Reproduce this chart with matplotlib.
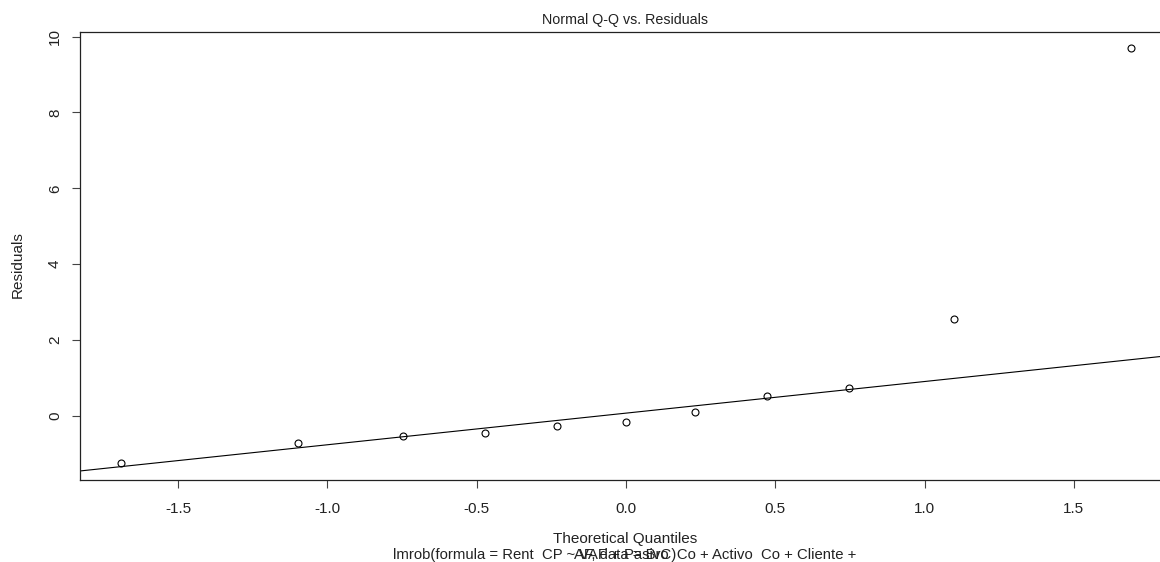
import numpy as np
import matplotlib
matplotlib.use('Agg')
import matplotlib.pyplot as plt

# Data
theoretical = [-1.691, -1.097, -0.748, -0.473, -0.230, 0.0,
               0.230, 0.473, 0.748, 1.097, 1.691]
residuals = [-1.24, -0.71, -0.53, -0.45, -0.26, -0.17,
             0.11, 0.53, 0.74, 2.56, 9.70]
x_ticks = [-1.5, -1.0, -0.5, 0.0, 0.5, 1.0, 1.5]
y_ticks = [0, 2, 4, 6, 8, 10]

plt.rcParams['font.family'] = ['Liberation Sans', 'DejaVu Sans']

W, H = 1160, 562
fig = plt.figure(figsize=(W / 100, H / 100), dpi=100)
ax = fig.add_axes([80 / W, (H - 480) / H, (1171 - 80) / W, (480 - 32) / H])

ax.plot(theoretical, residuals, 'o', mfc='none', mec='black', ms=5, mew=0.8)

# qqline: line through the first and third quartiles
q1, q3 = np.percentile(residuals, [25, 75])
z1, z3 = -0.6745, 0.6745
slope = (q3 - q1) / (z3 - z1)
intercept = q1 - slope * z1
xl = np.array([-2.5, 2.5])
ax.plot(xl, intercept + slope * xl, color='black', lw=0.8)

ax.set_xlim(-1.828, 1.825)
ax.set_ylim(-1.69, 10.12)
ax.set_xticks(x_ticks)
ax.set_xticklabels([f'{v:.1f}' for v in x_ticks])
ax.set_yticks(y_ticks)
ax.set_yticklabels([str(v) for v in y_ticks], rotation=90, va='center')
ax.tick_params(direction='out', length=6, width=0.8, color='#444444',
               labelsize=11, labelcolor='#222222', pad=10)
ax.tick_params(axis='y', pad=7)
for s in ax.spines.values():
    s.set_linewidth(0.9)
    s.set_color('#222222')

fig.text(625 / W, 1 - 20 / H, 'Normal Q-Q vs. Residuals', ha='center', va='center',
         fontsize=10.3, color='#222222')
fig.text(625 / W, 1 - 539 / H, 'Theoretical Quantiles', ha='center', va='center',
         fontsize=11, color='#222222')
# R overprints the two deparsed lines of the call in the same place
fig.text(625 / W, 1 - 555 / H,
         'lmrob(formula = Rent  CP ~ VAF + Pasivo  Co + Activo  Co + Cliente +',
         ha='center', va='center', fontsize=10.7, color='#222222')
fig.text(625 / W, 1 - 555 / H, 'AF, data = BrC)', ha='center', va='center',
         fontsize=10.7, color='#222222')
fig.text(18 / W, 1 - 265 / H, 'Residuals', ha='center', va='center', rotation=90,
         fontsize=11, color='#222222')

fig.savefig('out.png', dpi=100, facecolor='white')
